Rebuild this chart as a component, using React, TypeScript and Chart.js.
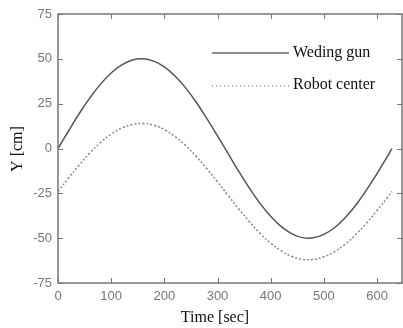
import React, { useEffect, useRef } from "react";
import { Chart, registerables } from "chart.js";

Chart.register(...registerables);

const timeValues = [0, 20, 40, 60, 80, 100, 120, 140, 160, 180, 200, 220, 240, 260, 280, 300, 320, 340, 360, 380, 400, 420, 440, 460, 480, 500, 520, 540, 560, 580, 600, 620, 628];
const weldingGun = [0, 9.9, 19.5, 28.2, 35.9, 42.1, 46.6, 49.3, 50.0, 48.7, 45.5, 40.4, 33.8, 25.8, 16.7, 7.1, -2.9, -12.8, -22.1, -30.6, -37.8, -43.6, -47.6, -49.7, -49.8, -47.9, -44.2, -38.6, -31.6, -23.2, -14.0, -4.2, 0];
const robotCenter = [-24, -16.4, -9.2, -2.5, 3.3, 8.0, 11.4, 13.4, 14.0, 13.0, 10.6, 6.7, 1.7, -4.4, -11.3, -18.6, -26.2, -33.7, -40.8, -47.3, -52.8, -57.1, -60.2, -61.8, -61.9, -60.4, -57.6, -53.4, -48.0, -41.7, -34.6, -27.2, -24];
const xTicks = [0, 100, 200, 300, 400, 500, 600];
const yTicks = [-75, -50, -25, 0, 25, 50, 75];
const seriesNames = ["Weding gun", "Robot center"];
const xTitle = "Time [sec]";
const yTitle = "Y [cm]";

const AXIS_COLOR = "#777";
const SOLID_COLOR = "#555";
const DOT_COLOR = "#888";

const framePlugin = {
  id: "frame",
  afterDraw(chart: any) {
    const { ctx, chartArea: a, scales } = chart;
    const xs = scales.x;
    const ys = scales.y;
    ctx.save();
    ctx.strokeStyle = AXIS_COLOR;
    ctx.lineWidth = 1.5;
    ctx.strokeRect(a.left, a.top, a.right - a.left, a.bottom - a.top);
    ctx.lineWidth = 1;
    const tl = 5;
    ctx.beginPath();
    xTicks.forEach((v) => {
      const px = Math.round(xs.getPixelForValue(v)) + 0.5;
      ctx.moveTo(px, a.bottom);
      ctx.lineTo(px, a.bottom - tl);
      ctx.moveTo(px, a.top);
      ctx.lineTo(px, a.top + tl);
    });
    yTicks.forEach((v) => {
      const py = Math.round(ys.getPixelForValue(v)) + 0.5;
      ctx.moveTo(a.left, py);
      ctx.lineTo(a.left + tl, py);
      ctx.moveTo(a.right, py);
      ctx.lineTo(a.right - tl, py);
    });
    ctx.stroke();

    // legend
    ctx.fillStyle = "#111";
    ctx.font = '16px "Liberation Serif", serif';
    ctx.textBaseline = "middle";
    ctx.textAlign = "left";
    ctx.strokeStyle = "#222";
    ctx.lineWidth = 1.2;
    ctx.beginPath();
    ctx.moveTo(212, 53);
    ctx.lineTo(289, 53);
    ctx.stroke();
    ctx.fillText(seriesNames[0], 293, 53);
    ctx.strokeStyle = "#666";
    ctx.setLineDash([1, 3]);
    ctx.beginPath();
    ctx.moveTo(212, 86);
    ctx.lineTo(289, 86);
    ctx.stroke();
    ctx.setLineDash([]);
    ctx.fillText(seriesNames[1], 293, 85);

    // titles
    ctx.textAlign = "center";
    ctx.textBaseline = "alphabetic";
    ctx.fillText(xTitle, 215, 322);
    ctx.translate(22, 149);
    ctx.rotate(-Math.PI / 2);
    ctx.fillText(yTitle, 0, 0);
    ctx.restore();
  },
};

export default function App() {
  const ref = useRef<HTMLCanvasElement>(null);
  useEffect(() => {
    if (!ref.current) return;
    const chart = new Chart(ref.current, {
      type: "line",
      data: {
        datasets: [
          {
            label: seriesNames[0],
            data: timeValues.map((t, i) => ({ x: t, y: weldingGun[i] })),
            borderColor: SOLID_COLOR,
            borderWidth: 1.5,
            pointRadius: 0,
            tension: 0.4,
            fill: false,
          },
          {
            label: seriesNames[1],
            data: timeValues.map((t, i) => ({ x: t, y: robotCenter[i] })),
            borderColor: DOT_COLOR,
            borderWidth: 1.5,
            borderDash: [2, 2],
            pointRadius: 0,
            tension: 0.4,
            fill: false,
          },
        ],
      },
      options: {
        responsive: false,
        animation: false,
        layout: { padding: { top: 14, right: 1, left: 0, bottom: 0 } },
        plugins: { legend: { display: false }, tooltip: { enabled: false } },
        scales: {
          x: {
            type: "linear",
            min: 0,
            max: 647,
            grid: { display: false, drawTicks: false },
            border: { display: false },
            afterBuildTicks: (s: any) => {
              s.ticks = xTicks.map((v) => ({ value: v }));
            },
            afterFit: (s: any) => {
              s.height = 45;
            },
            ticks: {
              color: "#777",
              padding: 6,
              font: { family: '"Liberation Sans", Arial, sans-serif', size: 13 },
              maxRotation: 0,
            },
          },
          y: {
            type: "linear",
            min: -75,
            max: 75,
            grid: { display: false, drawTicks: false },
            border: { display: false },
            afterBuildTicks: (s: any) => {
              s.ticks = yTicks.map((v) => ({ value: v }));
            },
            afterFit: (s: any) => {
              s.width = 58;
            },
            ticks: {
              color: "#777",
              padding: 6,
              font: { family: '"Liberation Sans", Arial, sans-serif', size: 13 },
            },
          },
        },
      },
      plugins: [framePlugin],
    });
    return () => chart.destroy();
  }, []);
  return (
    <div style={{ position: "fixed", left: 0, top: 0, width: 403, height: 328, background: "#fff" }}>
      <canvas ref={ref} width={403} height={328} />
    </div>
  );
}
